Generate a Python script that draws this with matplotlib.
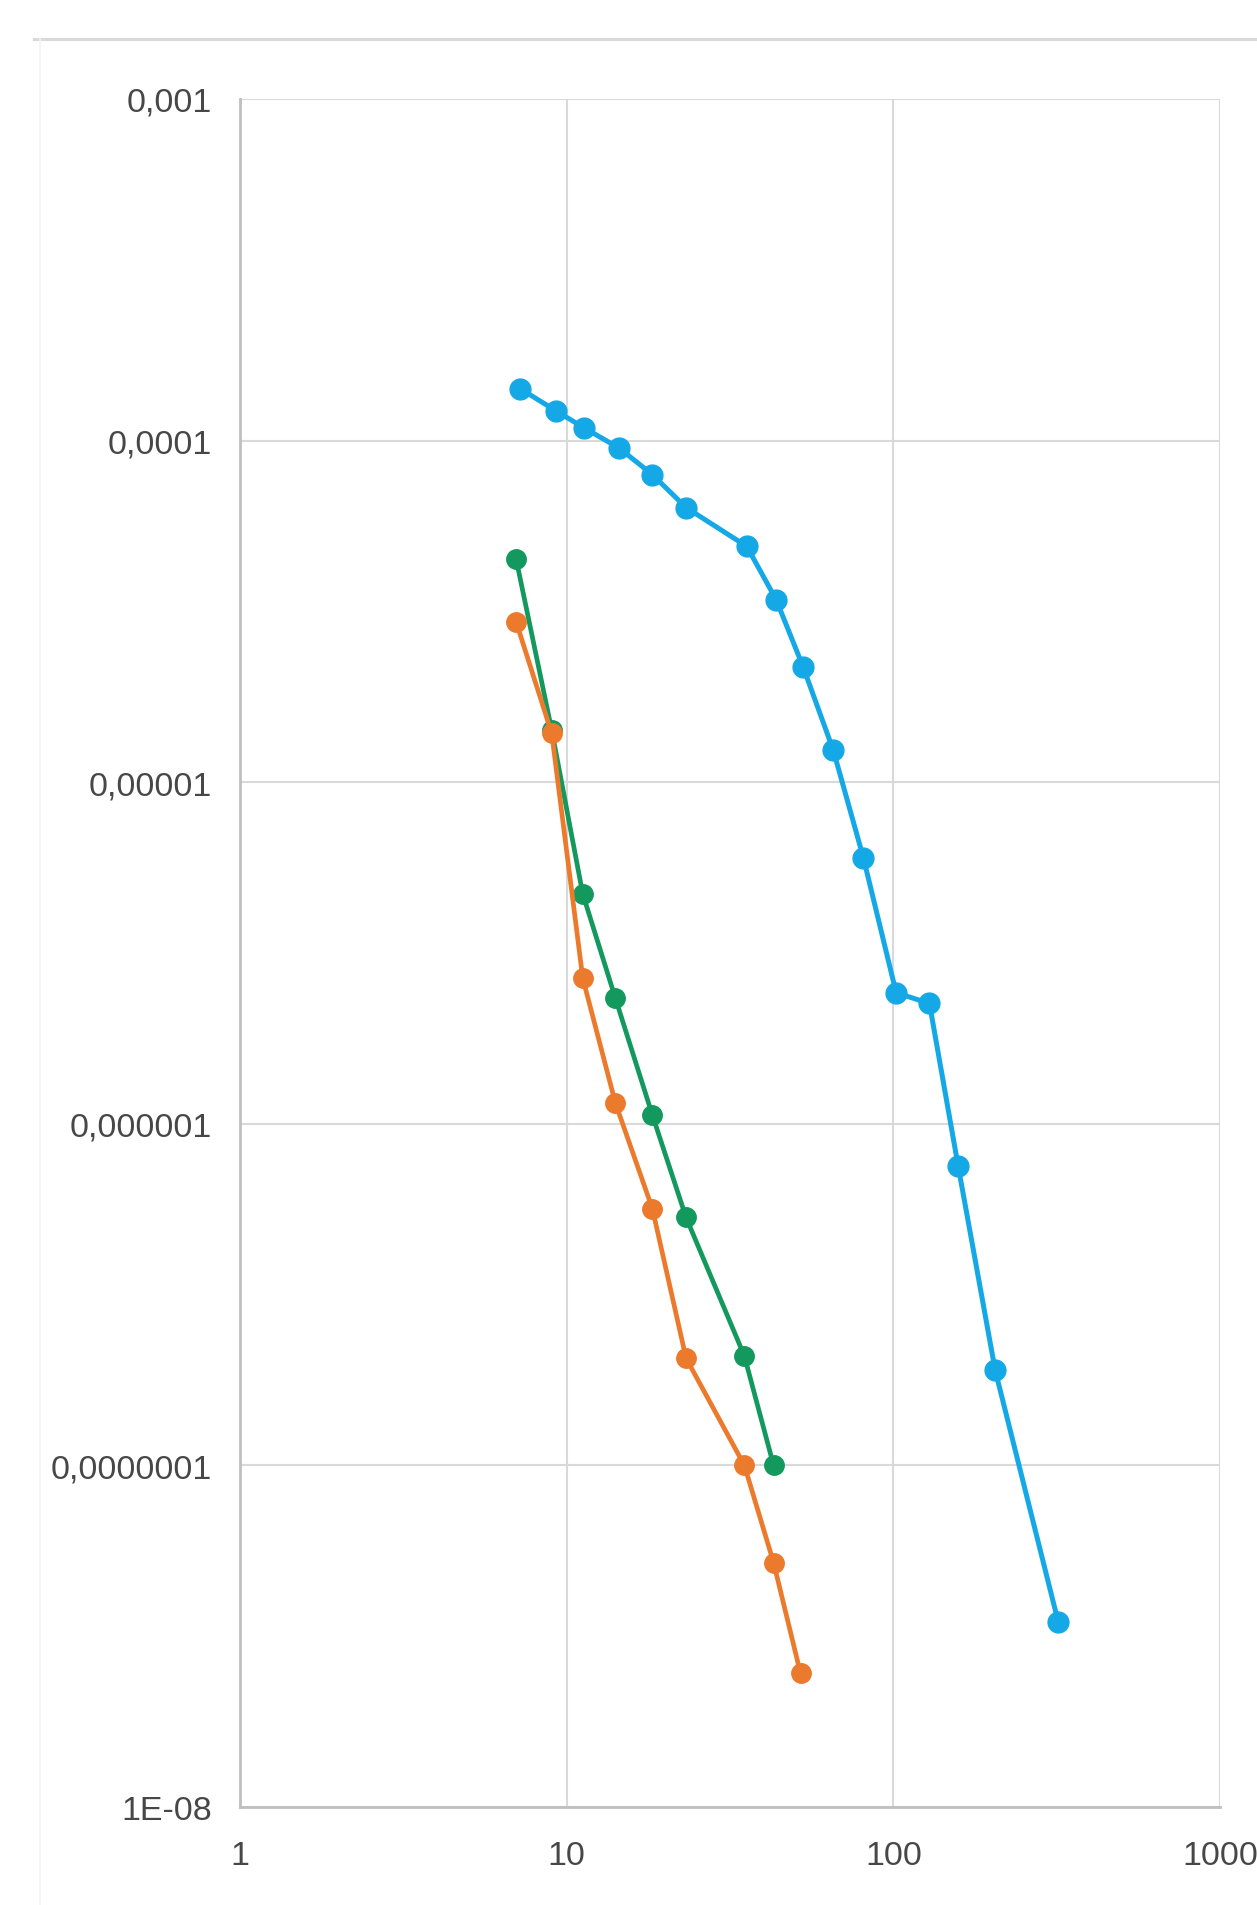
import matplotlib.pyplot as plt
from matplotlib.lines import Line2D
from matplotlib.ticker import FixedLocator, FixedFormatter, NullLocator

plt.rcParams['font.family'] = ['Liberation Sans', 'DejaVu Sans']

# series values (x on log axis, y on log axis)
blue_x = [7.2, 9.3, 11.3, 14.5, 18.3, 23.2, 35.6, 43.8, 52.9, 65.5, 81, 102, 129, 158, 205, 320]
blue_y = [1.42e-4, 1.22e-4, 1.09e-4, 9.5e-5, 7.95e-5, 6.37e-5, 4.9e-5, 3.42e-5,
          2.18e-5, 1.24e-5, 6.0e-6, 2.42e-6, 2.25e-6, 7.5e-7, 1.9e-7, 3.47e-8]

green_x = [7.0, 9.0, 11.2, 14.1, 18.3, 23.2, 35.0, 43.0]
green_y = [4.51e-5, 1.42e-5, 4.71e-6, 2.33e-6, 1.06e-6, 5.32e-7, 2.09e-7, 1.0e-7]

orange_x = [7.0, 9.0, 11.2, 14.1, 18.3, 23.2, 35.0, 43.0, 52.0]
orange_y = [2.95e-5, 1.39e-5, 2.67e-6, 1.15e-6, 5.64e-7, 2.06e-7, 1.0e-7, 5.19e-8, 2.46e-8]

x_ticks = [1, 10, 100, 1000]
x_labels = ['1', '10', '100', '1000']
y_ticks = [1e-8, 1e-7, 1e-6, 1e-5, 1e-4, 1e-3]
y_labels = ['1E-08', '0,0000001', '0,000001', '0,00001', '0,0001', '0,001']

fig = plt.figure(figsize=(12.57, 19.06), dpi=100)
ax = fig.add_axes([240 / 1257, 1 - 1808 / 1906, 980 / 1257, 1708 / 1906])

ax.plot(blue_x, blue_y, color='#14A9E6', lw=3.6, marker='o', ms=15, zorder=3)
ax.plot(green_x, green_y, color='#13995E', lw=3.4, marker='o', ms=14, zorder=3)
ax.plot(orange_x, orange_y, color='#EC7A2D', lw=3.4, marker='o', ms=14, zorder=4)

ax.set_xscale('log')
ax.set_yscale('log')
ax.set_xlim(1, 1000)
ax.set_ylim(1e-8, 1e-3)

ax.xaxis.set_major_locator(FixedLocator(x_ticks))
ax.xaxis.set_major_formatter(FixedFormatter(x_labels))
ax.xaxis.set_minor_locator(NullLocator())
ax.yaxis.set_major_locator(FixedLocator(y_ticks))
ax.yaxis.set_major_formatter(FixedFormatter(y_labels))
ax.yaxis.set_minor_locator(NullLocator())

ax.grid(True, color='#D9D9D9', lw=1.5, zorder=0)
ax.set_axisbelow(True)
ax.tick_params(length=0, labelsize=24.5, labelcolor='#474747')
ax.tick_params(axis='y', pad=20)
ax.tick_params(axis='x', pad=24)

for side in ['top', 'right']:
    ax.spines[side].set_visible(False)
for side in ['left', 'bottom']:
    ax.spines[side].set_color('#BFBFBF')
    ax.spines[side].set_linewidth(2)

# chart area border
fig.add_artist(Line2D([34 / 1257, 1], [1 - 40 / 1906, 1 - 40 / 1906],
                      color='#D9D9D9', lw=2.2, transform=fig.transFigure))
fig.add_artist(Line2D([40 / 1257, 40 / 1257], [0, 1 - 40 / 1906],
                      color='#F4F4F4', lw=1.2, transform=fig.transFigure))

fig.savefig('out.png', dpi=100)
